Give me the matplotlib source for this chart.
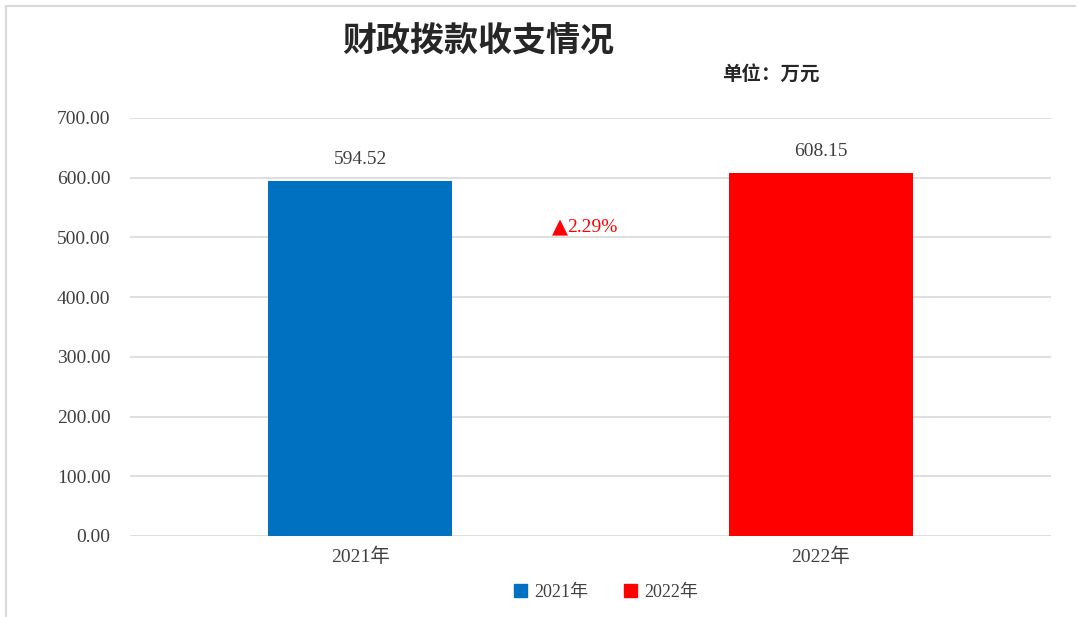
import matplotlib.pyplot as plt
from matplotlib.patches import Patch
from matplotlib.lines import Line2D

categories = ["2021年", "2022年"]
values = [594.52, 608.15]
colors = ["#0070C0", "#FF0000"]
growth_label = "2.29%"
title = "财政拨款收支情况"
unit = "单位：万元"
yticks = [0, 100, 200, 300, 400, 500, 600, 700]

serif = ["Liberation Serif", "Noto Sans CJK SC"]
plt.rcParams["font.family"] = serif

fig = plt.figure(figsize=(10.78, 6.17), dpi=100)
ax = fig.add_axes([130 / 1078, 1 - 536 / 617, 921 / 1078, 418 / 617])

x = range(len(categories))
bars = ax.bar(x, values, width=0.4, color=colors, zorder=2)

for xi, v in zip(x, values):
    ax.annotate("%.2f" % v, (xi, v), xytext=(0, 9), textcoords="offset points",
                ha="center", va="bottom", fontsize=14, color="#404040")

ax.text(0.45, 516, "▲", ha="right", va="center", fontsize=15, color="#FF0000",
        family="DejaVu Sans")
ax.text(0.45, 516, growth_label, ha="left", va="center", fontsize=14,
        color="#FF0000")

ax.set_xlim(-0.5, 1.5)
ax.set_ylim(0, 700)
ax.set_yticks(yticks)
ax.set_yticklabels(["%.2f" % t for t in yticks])
ax.set_xticks(list(x))
ax.set_xticklabels(categories)
ax.tick_params(axis="both", length=0, labelsize=14, labelcolor="#404040")
ax.tick_params(axis="y", pad=14)
ax.tick_params(axis="x", pad=8)
ax.grid(axis="y", color="#D9D9D9", linewidth=1.2, zorder=0)
for s in ax.spines.values():
    s.set_visible(False)

fig.text(478 / 1078, 1 - 40 / 617, title, ha="center", va="center",
         fontsize=24.5, fontweight="bold", family="Noto Sans CJK SC", color="#262626")
fig.text(771 / 1078, 1 - 75 / 617, unit, ha="center", va="center",
         fontsize=14, fontweight="bold", family="Noto Sans CJK SC", color="#262626")

handles = [Patch(facecolor=c, edgecolor=c) for c in colors]
fig.legend(handles, categories, loc="center", bbox_to_anchor=(606 / 1078, 1 - 592 / 617),
           ncol=2, frameon=False, fontsize=13, handlelength=0.7, handleheight=0.7,
           handletextpad=0.4, columnspacing=2.0, labelcolor="#404040")

# light frame around the chart area
fig.add_artist(Line2D([6 / 1078, 1075 / 1078], [1 - 6 / 617, 1 - 6 / 617],
                      transform=fig.transFigure, color="#D9D9D9", linewidth=1.5))
fig.add_artist(Line2D([6 / 1078, 6 / 1078], [1 - 6 / 617, 0],
                      transform=fig.transFigure, color="#D9D9D9", linewidth=1.5))

fig.savefig("out.png", dpi=100)
